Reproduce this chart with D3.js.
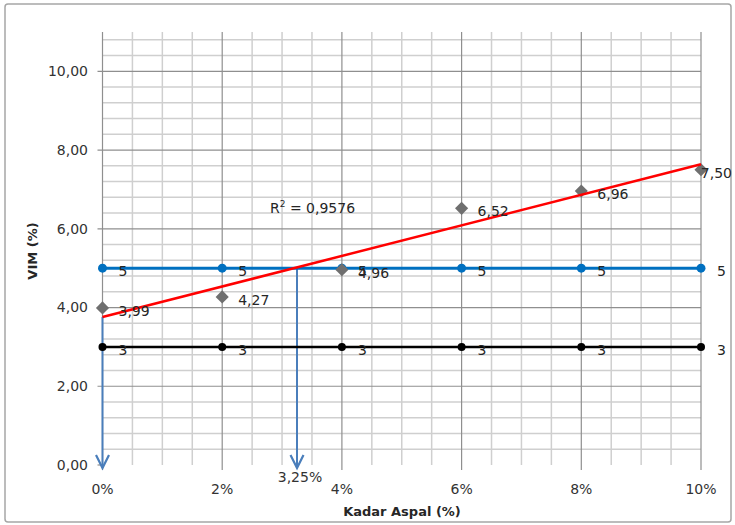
<!DOCTYPE html>
<html>
<head>
<meta charset="utf-8">
<script src="https://cdn.jsdelivr.net/npm/d3@7"></script>
<style>
  html, body { margin: 0; padding: 0; background: #fff; }
  svg { display: block; }
  text { font-family: "DejaVu Sans", Verdana, sans-serif; }
</style>
</head>
<body>
<svg id="chart" width="735" height="525"></svg>
<script>
// Kadar aspal (%) vs VIM (%)
const kadarAspal = [0, 2, 4, 6, 8, 10];
const vim = [3.99, 4.27, 4.96, 6.52, 6.96, 7.50];
const batasAtas = [5, 5, 5, 5, 5, 5];
const batasBawah = [3, 3, 3, 3, 3, 3];
const kadarOptimum = 3.25;
const xTicks = [0, 2, 4, 6, 8, 10];
const yTicks = [0, 2, 4, 6, 8, 10];
const r2Text = ["R", "2", " = 0,9576"];
const optimumLabel = "3,25%";

const W = 735, H = 525;
const plot = { left: 102.5, right: 701, top: 32, bottom: 465 };

const svg = d3.select("#chart");
const x = d3.scaleLinear().domain([0, 10]).range([plot.left, plot.right]);
const y = d3.scaleLinear().domain([0, 11]).range([plot.bottom, plot.top]);

const fmtY = v => d3.format(".2f")(v).replace(".", ",");
const fmtLbl = v => (Number.isInteger(v) ? String(v) : d3.format(".2f")(v).replace(".", ","));

// outer frame
svg.append("rect")
  .attr("x", 5).attr("y", 4).attr("width", W - 9).attr("height", H - 7)
  .attr("rx", 3).attr("fill", "#fff").attr("stroke", "#a6a6a6").attr("stroke-width", 1.5);

const g = svg.append("g");

// minor gridlines
const xMinor = d3.range(0, 10.001, 0.5).filter(v => Math.abs(v % 2) > 1e-9);
const yMinor = d3.range(0.4, 11, 0.4).filter(v => Math.abs(v / 2 - Math.round(v / 2)) > 1e-6);

g.selectAll(".xminor").data(xMinor).join("line")
  .attr("x1", d => x(d)).attr("x2", d => x(d))
  .attr("y1", plot.top).attr("y2", plot.bottom)
  .attr("stroke", "#cfcfcf").attr("stroke-width", 1.5);

g.selectAll(".yminor").data(yMinor).join("line")
  .attr("x1", plot.left).attr("x2", plot.right)
  .attr("y1", d => y(d)).attr("y2", d => y(d))
  .attr("stroke", "#cfcfcf").attr("stroke-width", 1.5);

// major gridlines with tick marks
g.selectAll(".xmajor").data(xTicks).join("line")
  .attr("x1", d => x(d)).attr("x2", d => x(d))
  .attr("y1", plot.top).attr("y2", plot.bottom + 5)
  .attr("stroke", "#8f8f8f").attr("stroke-width", 1.2);

g.selectAll(".ymajor").data(yTicks.filter(d => d > 0)).join("line")
  .attr("x1", plot.left - 5).attr("x2", plot.right)
  .attr("y1", d => y(d)).attr("y2", d => y(d))
  .attr("stroke", "#8f8f8f").attr("stroke-width", 1.2);

g.append("line")
  .attr("x1", plot.left - 5).attr("x2", plot.left)
  .attr("y1", y(0)).attr("y2", y(0))
  .attr("stroke", "#8f8f8f").attr("stroke-width", 1.2);

// axis labels
g.selectAll(".ylab").data(yTicks).join("text")
  .attr("x", 88).attr("y", d => y(d)).attr("dy", "0.35em")
  .attr("text-anchor", "end").attr("font-size", 14).attr("fill", "#333")
  .text(fmtY);

g.selectAll(".xlab").data(xTicks).join("text")
  .attr("x", d => x(d)).attr("y", 494)
  .attr("text-anchor", "middle").attr("font-size", 14).attr("fill", "#333")
  .text(d => d + "%");

svg.append("text")
  .attr("x", 402).attr("y", 516).attr("text-anchor", "middle")
  .attr("font-size", 13).attr("font-weight", "bold").attr("fill", "#262626")
  .text("Kadar Aspal (%)");

svg.append("text")
  .attr("transform", "translate(37,251) rotate(-90)").attr("text-anchor", "middle")
  .attr("font-size", 13).attr("font-weight", "bold").attr("fill", "#262626")
  .text("VIM (%)");

// linear trendline of VIM
const mx = d3.mean(kadarAspal), my = d3.mean(vim);
const sxy = d3.sum(kadarAspal, (v, i) => (v - mx) * (vim[i] - my));
const sxx = d3.sum(kadarAspal, v => (v - mx) ** 2);
const slope = sxy / sxx, intercept = my - slope * mx;

// arrows down to the x axis
const arrowColor = "#4a7ebb";
const arrows = [
  { xv: 0, y0: intercept },
  { xv: kadarOptimum, y0: batasAtas[0] }
];
const ag = svg.append("g");
arrows.forEach(a => {
  const tipY = y(0) + 3;
  ag.append("line")
    .attr("x1", x(a.xv)).attr("x2", x(a.xv))
    .attr("y1", y(a.y0)).attr("y2", tipY)
    .attr("stroke", arrowColor).attr("stroke-width", 2);
  ag.append("path")
    .attr("d", `M${x(a.xv) - 6.5},${tipY - 13} L${x(a.xv)},${tipY} L${x(a.xv) + 6.5},${tipY - 13}`)
    .attr("fill", "none").attr("stroke", arrowColor).attr("stroke-width", 2.2)
    .attr("stroke-linejoin", "miter");
});

svg.append("text")
  .attr("x", x(kadarOptimum) + 3).attr("y", 482).attr("text-anchor", "middle")
  .attr("font-size", 14).attr("fill", "#333")
  .text(optimumLabel);

// horizontal limit lines
const line = d3.line().x((d, i) => x(kadarAspal[i])).y(d => y(d));
const limits = [
  { data: batasBawah, color: "#000000", width: 2.5, r: 4 },
  { data: batasAtas, color: "#0070c0", width: 3, r: 4.5 }
];
limits.forEach(s => {
  svg.append("path").datum(s.data).attr("d", line)
    .attr("fill", "none").attr("stroke", s.color).attr("stroke-width", s.width);
  svg.selectAll(null).data(s.data).join("circle")
    .attr("cx", (d, i) => x(kadarAspal[i])).attr("cy", d => y(d))
    .attr("r", s.r).attr("fill", s.color);
});

// VIM points
const diamond = d3.symbol().type(d3.symbolDiamond2).size(110);
svg.selectAll(".vim").data(vim).join("path")
  .attr("d", diamond)
  .attr("transform", (d, i) => `translate(${x(kadarAspal[i])},${y(d)})`)
  .attr("fill", "#6f6f6f");

// trendline
svg.append("line")
  .attr("x1", x(0)).attr("y1", y(intercept))
  .attr("x2", x(10)).attr("y2", y(intercept + slope * 10))
  .attr("stroke", "#ff0000").attr("stroke-width", 2.5);

// R² label
const r2 = svg.append("text").attr("x", 270).attr("y", 213)
  .attr("font-size", 14).attr("fill", "#262626");
r2.append("tspan").text(r2Text[0]);
r2.append("tspan").attr("font-size", 9).attr("dy", -6).text(r2Text[1]);
r2.append("tspan").attr("dy", 6).text(r2Text[2]);

// data labels to the right of each point, kept inside the frame
function labels(data) {
  svg.selectAll(null).data(data).join("text")
    .attr("font-size", 14).attr("fill", "#262626")
    .attr("y", d => y(d) + 8)
    .text(fmtLbl)
    .attr("x", function (d, i) {
      const w = this.getComputedTextLength();
      return Math.min(x(kadarAspal[i]) + 16, W - 3 - w);
    });
}
labels(batasBawah);
labels(batasAtas);
labels(vim);
</script>
</body>
</html>
